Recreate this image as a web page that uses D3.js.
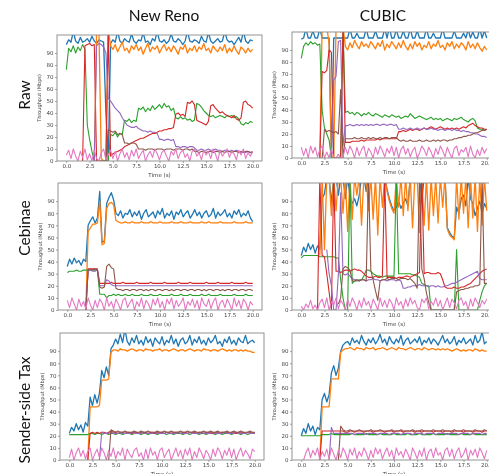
<!DOCTYPE html>
<html>
<head>
<meta charset="utf-8">
<script src="https://cdn.jsdelivr.net/npm/d3@7/dist/d3.min.js"></script>
<style>
  body { margin: 0; background: #fff; }
  svg { display: block; filter: blur(0.3px); }
</style>
</head>
<body>
<svg id="fig" width="489" height="474"></svg>
<script>
// samples every 0.25 s, 0 .. 20 s (81 values), null = flow not running
const step = 0.25;
const xTicks = [0, 2.5, 5, 7.5, 10, 12.5, 15, 17.5, 20];
const yTicks = [0, 10, 20, 30, 40, 50, 60, 70, 80, 90];
const colTitles = ['New Reno', 'CUBIC'];
const rowTitles = ['Raw', 'Cebinae', 'Sender-side Tax'];
const colors = ['#1f77b4', '#ff7f0e', '#2ca02c', '#d62728', '#9467bd', '#8c564b', '#e377c2'];

// ---- New Reno / Raw
const renoRawBlue = [97,101,99,108,100,98,103,99,100,102, 99,104,100,98,101,100,99,40,0,98, 101,99,108,100,98,102,100,99,106,100, 98,101,100,107,99,100,97,102,100,108, 100,99,101,98,100,106,100,99,102,100, 97,100,108,100,99,101,100,98,104,100, 99,107,100,98,100,102,99,100,108,101, 99,100,97,100,103,99,108,100,98,101, 100];
const renoRawOrange = [null,null,null,null,null,null,null,null,null,null, null,null,0,110,110,2,0,0,110,96, 93,97,91,95,99,92,94,90,96,93, 97,92,95,89,94,98,91,95,93,96, 90,94,97,92,95,91,96,93,89,95, 93,97,90,94,92,96,91,95,93,98, 92,94,90,96,93,91,95,92,97,90, 94,91,96,92,89,95,93,90,94,91, 93];
const renoRawGreen = [76,94,91,96,90,95,92,97,93,30, 18,8,0,0,0,0,0,0,0,22, 21,24,20,23,22,34,33,35,32,34, 33,44,43,45,41,44,42,46,43,45, 47,44,48,45,46,42,44,36,35,37, 35,36,34,35,33,34,48,47,45,42, 40,38,37,38,36,37,38,37,36,38, 37,38,36,37,35,31,30,32,31,33, 32];
const renoRawRed = [null,null,null,null,null,null,null,0,96,97, 98,96,97,0,0,0,0,0,110,4, 6,7,8,9,10,12,13,14,15,16, 17,18,19,19,20,21,22,23,23,24, 25,25,26,26,27,27,28,39,40,38, 39,37,49,48,50,47,34,33,32,31, 30,33,46,47,44,42,40,41,39,38, 37,36,38,35,34,36,49,50,47,46, 44];
const renoRawPurple = [null,null,null,null,null,null,null,null,null,null, null,null,0,96,98,97,95,90,52,50, 47,44,42,40,36,33,30,29,28,28, 29,27,26,25,25,24,25,24,24,23, 18,18,17,18,18,17,18,12,12,11, 12,12,11,12,12,11,9,9,10,9, 9,10,9,9,10,9,9,8,9,9, 8,9,8,9,8,7,8,7,8,7, 7];
const renoRawBrown = [null,null,null,null,null,null,null,null,null,null, null,null,null,null,null,null,null,0,26,25, 24,25,22,23,22,15,15,14,15,15, 14,10,10,10,9,10,10,10,9,10, 10,10,9,10,10,10,9,10,10,10, 9,10,10,9,10,8,8,7,8,8, 7,8,8,7,8,8,7,8,7,8, 8,7,8,8,7,8,7,8,8,7, 8];
const renoRawPink = [5,9,2,10,4,0,8,3,10,1, 6,0,9,2,0,7,10,1,5,9, 2,8,0,6,10,3,7,1,9,4, 10,2,6,9,0,5,8,3,10,6, 1,7,9,4,0,8,5,10,2,7, 9,3,6,0,8,10,4,7,1,9, 5,8,2,10,6,0,9,4,7,10, 3,8,6,1,9,5,10,2,7,4, 8];

// ---- CUBIC / Raw
const cubicRawBlue = [99,100,108,100,100,106,100,100,108,100, 100,100,100,0,100,100,100,100,100,100, 100,108,100,100,104,100,100,100,108,100, 100,100,106,100,100,100,108,100,109,100, 100,107,100,100,106,100,100,108,100,100, 106,100,100,100,108,100,100,104,100,100, 100,108,100,100,100,100,106,100,100,100, 104,100,107,100,105,100,100,108,100,106, 100];
const cubicRawOrange = [null,null,null,null,null,null,null,null,0,110, 110,110,95,2,0,110,110,105,110,93, 90,96,92,98,94,91,97,93,95,92, 97,94,91,96,93,98,90,95,92,97, 94,91,96,92,98,93,90,95,91,97, 93,96,90,94,92,97,91,95,93,98, 92,94,90,96,93,97,91,95,92,96, 94,90,97,92,95,91,96,92,89,93, 90];
const cubicRawGreen = [83,93,96,94,97,95,96,94,95,40, 25,20,15,0,0,0,0,0,110,38, 39,37,38,36,38,37,35,37,36,38, 36,35,37,36,35,34,36,35,34,36, 35,34,35,33,34,35,34,37,35,33, 34,35,34,33,32,33,34,32,33,32, 33,31,32,33,32,31,33,32,33,34, 32,31,30,32,33,31,25,24,24,23, 24];
const cubicRawRed = [null,null,null,null,null,null,null,null,0,72, 71,73,90,88,0,0,0,0,110,13, 13,13,14,14,14,14,15,14,15,15, 15,15,15,16,15,16,16,16,16,16, 16,16,22,22,23,22,23,24,23,24, 24,23,24,25,24,25,26,25,24,25, 26,25,24,25,24,25,24,25,24,25, 26,25,27,28,29,27,26,25,25,24, 24];
const cubicRawPurple = [null,null,null,null,null,null,null,null,null,null, null,null,null,0,65,68,97,98,10,27, 27,28,27,27,28,27,28,27,28,27, 28,27,28,28,27,28,28,27,28,28, 27,28,24,24,25,24,24,25,24,24, 25,24,24,25,24,24,25,24,24,23, 24,24,23,24,24,23,24,23,23,22, 23,22,22,21,21,20,20,19,18,18, 17];
const cubicRawBrown = [null,null,null,null,null,null,null,null,null,0, 24,22,23,22,21,22,20,57,0,16, 16,16,16,17,16,16,17,16,16,17, 16,17,16,16,17,16,17,17,16,17, 17,17,15,14,15,14,14,15,14,14, 14,15,14,14,15,14,14,15,14,15, 14,15,15,14,15,15,16,16,17,17, 18,18,19,19,20,21,21,22,23,23, 24];
const cubicRawPink = [9,2,8,0,10,4,9,1,7,10, 0,5,0,8,0,0,3,0,1,9, 3,10,6,0,9,2,7,10,1,8, 5,0,9,3,10,6,1,8,4,10, 2,9,0,7,10,3,8,1,6,9, 0,4,10,7,2,9,5,0,8,3, 10,6,1,9,4,0,8,10,2,7, 5,9,1,10,3,0,7,2,9,4, 8];

// ---- New Reno / Cebinae
const renoCebBlue = [36,42,38,43,39,41,37,42,40,70, 74,77,72,76,98,56,57,88,93,97, 91,80,78,82,76,80,79,83,77,81, 78,82,75,80,83,77,79,81,76,82, 79,84,76,80,78,82,75,81,79,83, 77,80,82,76,79,83,78,81,76,80, 82,77,79,84,76,81,78,80,83,77, 80,76,82,79,83,77,80,78,82,76, 73];
const renoCebOrange = [null,null,null,null,null,null,null,null,0,65, 68,71,71,72,90,54,55,84,88,89, 87,74,73,72,72,73,72,72,73,72, 72,72,73,72,72,72,73,72,72,72, 73,72,72,72,72,73,72,72,72,73, 72,72,72,73,72,72,72,72,73,72, 72,73,72,72,72,72,73,72,72,72, 72,72,73,72,72,72,72,73,72,72, 72];
const renoCebGreen = [31,32,32,32,33,32,32,33,33,33, 33,33,33,33,13,13,13,10,12,12, 13,12,13,12,12,13,12,12,13,12, 12,12,13,12,12,12,13,12,12,12, 13,12,12,12,12,13,12,12,12,13, 12,12,12,13,12,12,12,12,13,12, 12,13,12,12,12,12,13,12,12,12, 12,12,13,12,12,12,12,13,12,12, 12];
const renoCebRed = [null,null,null,null,null,null,null,null,0,34, 34,34,34,34,22,22,22,22,22,23, 22,22,22,22,23,22,22,22,22,22, 23,22,22,22,22,22,23,22,22,22, 22,22,23,22,22,22,22,22,23,22, 22,22,22,23,22,22,22,22,22,22, 23,22,22,22,22,23,22,22,22,22, 22,23,22,22,22,22,22,23,22,22, 22];
const renoCebPurple = [null,null,null,null,null,null,null,null,0,33, 33,32,32,33,20,20,20,25,24,21, 20,20,20,20,20,20,20,20,20,20, 20,20,20,20,20,20,20,20,20,20, 20,20,20,20,20,20,20,20,20,20, 20,20,20,20,20,20,20,20,20,20, 20,20,20,20,20,20,20,20,20,20, 20,20,20,20,20,20,20,20,20,20, 20];
const renoCebBrown = [null,null,null,null,null,null,null,null,0,33, 34,33,34,33,19,18,19,36,38,35, 34,18,17,17,16,17,17,16,17,17, 16,17,17,16,17,16,17,17,16,17, 17,16,17,17,16,17,16,17,17,16, 17,17,16,17,17,16,17,17,16,17, 16,17,17,16,17,17,16,17,16,17, 17,16,17,17,16,17,17,16,17,17, 16];
const renoCebPink = [8,2,10,5,0,9,3,7,1,10, 4,0,8,2,9,6,0,10,3,7, 1,9,5,0,8,10,2,6,9,0, 7,3,10,1,8,5,0,9,4,10, 2,7,0,9,5,10,1,8,3,6, 10,0,7,4,9,2,8,0,10,5, 3,9,1,7,10,0,6,8,2,9, 5,0,10,3,8,1,9,6,0,7, 4];

// ---- CUBIC / Cebinae
const cubicCebBlue = [45,52,48,55,50,54,47,53,50,92, 96,110,110,88,110,110,95,110,110,92, 110,94,88,92,86,95,110,110,98,110, 110,110,110,110,110,110,110,100,92,86, 82,85,90,84,88,92,86,110,110,110, 110,110,90,110,110,110,110,110,110,110, 110,110,110,68,64,61,60,85,80,92, 95,86,110,92,88,78,84,90,80,88, 84];
const cubicCebOrange = [null,null,null,null,null,null,null,null,45,110, 50,110,110,78,110,82,110,110,80,110, 65,110,75,110,95,110,70,110,110,82, 110,75,110,62,110,85,110,98,90,84, 80,110,85,110,78,110,82,110,68,110, 110,64,110,70,110,66,110,78,110,72, 110,85,110,67,62,60,58,110,75,110, 80,110,68,110,76,110,65,110,70,110, 82];
const cubicCebGreen = [43,45,45,45,45,45,45,45,44,44, 44,44,44,44,44,43,43,25,10,0, 0,110,22,24,24,25,25,28,33,33, 32,30,29,28,28,27,28,28,28,28, 28,110,30,30,30,30,30,30,29,29, 28,27,22,21,20,20,0,0,0,0, 0,0,0,0,0,0,0,50,0,0, 0,0,0,0,0,0,0,8,15,20, 22];
const cubicCebRed = [null,null,null,null,null,null,null,0,110,45, 44,30,15,0,110,32,32,31,32,33, 33,32,33,34,33,33,32,30,28,27, 27,27,28,27,27,28,110,27,27,27, 27,26,27,27,27,28,28,27,28,29, 30,31,110,30,31,31,30,30,30,31, 30,25,19,18,18,18,19,18,18,19, 19,20,21,22,24,26,28,30,32,33, 34];
const cubicCebPurple = [null,null,null,null,null,null,null,null,null,null, null,50,30,20,0,0,30,97,30,29, 30,28,26,25,25,24,25,25,24,25, 25,26,25,25,24,25,25,24,25,25, 25,24,25,24,18,18,19,19,20,20, 20,21,20,20,20,19,20,20,19,20, 19,19,20,20,21,22,22,23,24,25, 26,27,28,29,30,31,32,26,25,25, 25];
const cubicCebBrown = [null,null,null,null,null,null,null,null,null,null, null,null,null,null,null,null,5,10,34,36, 35,33,24,24,25,24,25,25,24,110, 33,25,16,8,24,25,25,26,25,26, 26,26,25,26,26,26,25,26,24,22, 18,110,34,26,14,6,0,0,0,0, 0,0,0,0,0,0,0,15,16,17, 17,18,18,19,19,20,20,21,110,22, 22];
const cubicCebPink = [3,0,5,2,8,1,4,0,6,9, 2,10,0,7,4,10,1,8,5,0, 9,3,10,6,0,8,2,10,4,7, 1,9,5,0,10,3,8,2,9,6, 0,10,4,7,1,9,3,10,5,8, 2,0,9,6,10,1,7,4,10,3, 8,0,5,10,2,9,6,1,8,10, 4,7,0,9,3,10,6,2,8,5, 9];

// ---- New Reno / Sender-side Tax
const renoTaxBlue = [22,27,24,30,25,29,23,31,28,52, 45,54,47,55,74,68,77,70,92,95, 100,96,104,97,108,98,95,101,97,103, 96,99,95,102,97,100,94,101,98,96, 102,95,99,97,103,96,100,94,99,101, 96,98,103,95,100,97,102,96,99,95, 101,97,99,103,96,98,94,100,97,102, 96,99,95,101,98,97,103,96,98,99, 97];
const renoTaxOrange = [null,null,null,null,null,null,null,null,0,44, 44,44,44,45,66,66,66,67,89,91, 91,90,92,91,91,90,91,92,91,90, 91,91,90,92,91,91,90,91,91,92, 90,91,91,90,91,92,91,90,91,91, 90,91,92,91,90,91,91,90,92,91, 91,90,91,91,90,91,92,91,90,91, 90,91,91,90,91,90,91,90,90,89, 89];
const renoTaxGreen = [21,21,21,21,21,21,21,21,21,22, 22,21,22,22,21,22,22,21,22,22, 21,22,22,21,22,22,22,21,22,22, 22,21,22,22,21,22,22,22,21,22, 22,22,21,22,22,21,22,22,22,21, 22,22,21,22,22,22,21,22,22,21, 22,22,22,21,22,22,21,22,22,22, 21,22,22,22,21,22,22,21,22,22, 22];
const renoTaxRed = [null,null,null,null,null,null,null,null,0,22, 23,22,23,22,23,23,22,23,24,23, 23,22,23,23,22,23,23,22,23,23, 22,23,23,23,22,23,23,22,23,23, 23,22,23,23,22,23,23,23,22,23, 23,22,23,23,23,22,23,23,22,23, 23,23,22,23,23,22,23,23,23,22, 23,23,22,23,23,23,22,23,23,22, 23];
const renoTaxPurple = [null,null,null,null,null,null,null,null,null,null, null,null,null,0,23,22,22,22,23,22, 22,22,23,22,22,22,22,23,22,22, 22,22,23,22,22,22,22,23,22,22, 22,22,23,22,22,22,22,23,22,22, 22,22,23,22,22,22,22,23,22,22, 22,22,23,22,22,22,22,23,22,22, 22,22,23,22,22,22,22,23,22,22, 22];
const renoTaxBrown = [null,null,null,null,null,null,null,null,null,null, null,null,null,null,null,null,null,0,25,24, 23,24,23,23,24,23,23,23,24,23, 23,24,23,23,24,23,23,23,24,23, 23,24,23,23,24,23,23,23,24,23, 23,24,23,23,24,23,23,23,24,23, 23,24,23,23,24,23,23,23,24,23, 23,24,23,23,24,23,23,23,24,23, 23];
const renoTaxPink = [2,9,0,6,10,3,8,1,7,10, 0,5,9,2,10,6,0,8,3,10, 1,7,4,10,0,9,5,2,8,10, 3,6,0,9,1,10,4,7,0,8, 10,2,6,9,0,5,10,3,8,1, 9,4,10,0,7,2,10,6,1,8, 5,0,9,3,10,7,1,8,4,10, 2,9,0,6,10,3,8,5,1,9, 7];

// ---- CUBIC / Sender-side Tax
const cubicTaxBlue = [20,26,22,30,24,28,21,27,25,50, 55,48,54,72,78,70,76,90,95,97, 98,95,101,97,99,96,103,98,95,100, 97,101,96,99,104,97,100,95,102,98, 96,100,97,103,95,99,101,96,98,100, 97,102,95,99,97,101,96,100,98,95, 99,103,97,100,96,98,102,95,99,97, 101,96,98,100,95,103,97,99,106,96, 98];
const cubicTaxOrange = [null,null,null,null,null,null,null,null,0,44, 44,44,44,67,67,67,67,89,91,92, 92,93,92,91,93,92,92,91,93,92, 92,93,91,92,92,93,92,91,92,93, 92,91,93,92,92,91,92,93,92,91, 92,92,91,93,92,91,92,92,91,92, 91,92,91,92,91,90,91,92,91,90, 91,90,91,91,90,92,91,90,91,90, 90];
const cubicTaxGreen = [20,20,20,20,20,20,20,20,20,21, 21,21,21,22,21,21,21,21,21,21, 21,21,22,21,21,21,21,21,22,21, 21,21,21,21,22,21,21,21,21,21, 22,21,21,21,21,21,22,21,21,21, 21,22,21,21,21,21,21,22,21,21, 21,21,21,22,21,21,21,21,21,22, 21,21,21,21,22,21,21,21,21,21, 21];
const cubicTaxRed = [null,null,null,null,null,null,null,null,0,24, 24,24,24,24,24,24,24,24,24,23, 23,24,24,23,24,24,24,23,24,24, 24,23,24,24,24,24,23,24,24,24, 23,24,24,24,23,24,24,24,24,23, 24,24,23,24,24,24,24,23,24,24, 24,23,24,24,24,23,24,24,24,24, 23,24,24,24,23,24,24,24,23,24, 24];
const cubicTaxPurple = [null,null,null,null,null,null,null,null,null,null, null,null,0,27,22,22,22,22,22,22, 22,22,22,21,22,22,22,22,21,22, 22,22,22,21,22,22,22,22,21,22, 22,22,22,21,22,22,22,22,21,22, 22,22,22,21,22,22,22,22,21,22, 22,22,22,21,22,22,22,22,21,22, 22,22,22,21,22,22,22,22,21,22, 22];
const cubicTaxBrown = [null,null,null,null,null,null,null,null,null,null, null,null,null,null,null,null,0,28,25,24, 24,25,24,24,24,25,24,24,24,24, 25,24,24,24,25,24,24,24,24,25, 24,24,24,25,24,24,24,24,25,24, 24,24,25,24,24,24,24,25,24,24, 24,25,24,24,24,24,25,24,24,24, 25,24,24,24,24,25,24,24,24,25, 24];
const cubicTaxPink = [null,0,6,10,2,8,4,10,0,7, 3,9,1,10,5,0,8,2,10,6, 0,9,4,10,1,7,3,10,6,0, 8,2,10,5,9,1,6,10,3,8, 0,10,4,7,2,9,5,0,10,6, 1,8,3,10,0,7,9,2,10,4, 6,0,8,10,3,9,1,7,10,2, 5,10,0,8,4,9,2,10,6,1, 8];

const panels = [
  [renoRawBlue, renoRawOrange, renoRawGreen, renoRawRed, renoRawPurple, renoRawBrown, renoRawPink],
  [cubicRawBlue, cubicRawOrange, cubicRawGreen, cubicRawRed, cubicRawPurple, cubicRawBrown, cubicRawPink],
  [renoCebBlue, renoCebOrange, renoCebGreen, renoCebRed, renoCebPurple, renoCebBrown, renoCebPink],
  [cubicCebBlue, cubicCebOrange, cubicCebGreen, cubicCebRed, cubicCebPurple, cubicCebBrown, cubicCebPink],
  [renoTaxBlue, renoTaxOrange, renoTaxGreen, renoTaxRed, renoTaxPurple, renoTaxBrown, renoTaxPink],
  [cubicTaxBlue, cubicTaxOrange, cubicTaxGreen, cubicTaxRed, cubicTaxPurple, cubicTaxBrown, cubicTaxPink]
];

// frame boxes of the six axes (pixels)
const boxes = [
  {x0: 57, x1: 262, y0: 35, y1: 161},
  {x0: 292, x1: 496, y0: 32, y1: 158},
  {x0: 58, x1: 262, y0: 183, y1: 310},
  {x0: 292, x1: 496, y0: 183, y1: 310},
  {x0: 60, x1: 264, y0: 333, y1: 460},
  {x0: 292, x1: 496, y0: 333, y1: 460}
];

const svg = d3.select('#fig');

const drawPanel = (series, box, k) => {
  const x = d3.scaleLinear().domain([-1, 21]).range([box.x0, box.x1]);
  const y = d3.scaleLinear().domain([0, 105]).range([box.y1, box.y0]);
  const g = svg.append('g');

  g.append('clipPath').attr('id', 'clip' + k)
    .append('rect')
    .attr('x', box.x0).attr('y', box.y0)
    .attr('width', box.x1 - box.x0).attr('height', box.y1 - box.y0);

  const line = d3.line()
    .defined(v => v !== null)
    .x((v, i) => x(i * step))
    .y(v => y(v));

  const plot = g.append('g').attr('clip-path', `url(#clip${k})`);
  series.forEach((s, j) => {
    plot.append('path')
      .attr('d', line(s))
      .attr('fill', 'none')
      .attr('stroke', colors[j])
      .attr('stroke-width', j < 2 ? 1.3 : 1.1)
      .attr('stroke-linejoin', 'round');
  });

  const xAxis = g.append('g')
    .attr('transform', `translate(0,${box.y1})`)
    .call(d3.axisBottom(x).tickValues(xTicks).tickSize(2).tickPadding(1.5).tickFormat(d3.format('.1f')));
  const yAxis = g.append('g')
    .attr('transform', `translate(${box.x0},0)`)
    .call(d3.axisLeft(y).tickValues(yTicks).tickSize(2).tickPadding(1.5).tickFormat(d => d));

  [xAxis, yAxis].forEach(a => {
    a.select('.domain').remove();
    a.selectAll('line').attr('stroke', '#666').attr('stroke-width', 0.6);
    a.selectAll('text')
      .attr('fill', '#444')
      .style('font-family', 'DejaVu Sans, sans-serif')
      .style('font-size', '5.5px');
  });

  g.append('rect')
    .attr('x', box.x0).attr('y', box.y0)
    .attr('width', box.x1 - box.x0).attr('height', box.y1 - box.y0)
    .attr('fill', 'none')
    .attr('stroke', '#888')
    .attr('stroke-width', 0.9);

  g.append('text')
    .attr('x', (x(0) + x(20)) / 2)
    .attr('y', box.y1 + 16)
    .attr('text-anchor', 'middle')
    .attr('fill', '#444')
    .style('font-family', 'DejaVu Sans, sans-serif')
    .style('font-size', '5.5px')
    .text('Time (s)');

  g.append('text')
    .attr('transform', `translate(${box.x0 - 16},${(box.y0 + box.y1) / 2}) rotate(-90)`)
    .attr('text-anchor', 'middle')
    .attr('fill', '#444')
    .style('font-family', 'DejaVu Sans, sans-serif')
    .style('font-size', '5px')
    .text('Throughput (Mbps)');
};

panels.forEach((series, k) => drawPanel(series, boxes[k], k));

// column and row titles
const colX = [164, 383];
svg.selectAll('.col-title')
  .data(colTitles)
  .enter()
  .append('text')
  .attr('class', 'col-title')
  .attr('x', (d, i) => colX[i])
  .attr('y', 21)
  .attr('text-anchor', 'middle')
  .attr('fill', '#111')
  .style('font-family', 'Lato, sans-serif')
  .style('font-size', '15.5px')
  .text(d => d);

const rowY = [95, 228, 410];
svg.selectAll('.row-title')
  .data(rowTitles)
  .enter()
  .append('text')
  .attr('class', 'row-title')
  .attr('transform', (d, i) => `translate(30,${rowY[i]}) rotate(-90)`)
  .attr('text-anchor', 'middle')
  .attr('fill', '#111')
  .style('font-family', 'Lato, sans-serif')
  .style('font-size', '15.5px')
  .text(d => d);
</script>
</body>
</html>
